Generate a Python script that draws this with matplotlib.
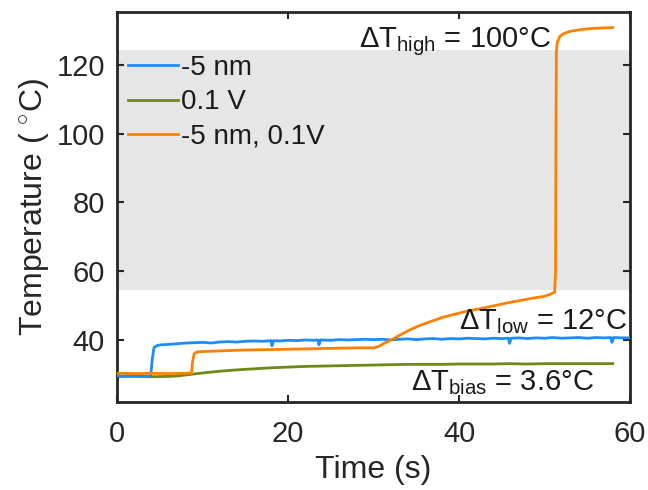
import matplotlib
matplotlib.use("Agg")
import matplotlib.pyplot as plt

plt.rcParams['font.family'] = ['Liberation Sans', 'DejaVu Sans']
plt.rcParams['mathtext.fontset'] = 'custom'
plt.rcParams['mathtext.rm'] = 'Liberation Sans'

# ---- data ----
t_blue = [0, 1, 2, 3, 3.9, 4.1, 4.3, 4.7, 5.2, 6, 7, 8, 9, 10, 11, 12, 13, 14, 15, 16, 17,
          18, 18.1, 18.3, 19, 20, 21, 22, 23, 23.5, 23.6, 23.8, 25, 26, 27, 28, 29,
          30, 31, 32, 33, 34, 35, 36, 37, 38, 39, 40, 41, 42, 43, 44, 45, 45.8, 45.9,
          46.1, 47, 48, 49, 50, 51, 52, 53, 54, 55, 56, 57, 57.8, 57.9, 58.1, 59, 60]
v_blue = [29.6, 29.5, 29.6, 29.5, 29.5, 34.5, 37.8, 38.4, 38.6, 38.7, 38.9, 39.1, 39.2,
          39.3, 39.1, 39.4, 39.5, 39.4, 39.6, 39.7, 39.6, 39.8, 38.3, 39.8, 39.7, 39.9,
          39.8, 40.0, 39.9, 40.0, 38.6, 40.0, 39.9, 40.1, 40.0, 40.1, 40.2, 40.1, 40.2,
          40.0, 40.2, 40.3, 40.1, 40.3, 40.4, 40.2, 40.4, 40.3, 40.5, 40.4, 40.3, 40.5,
          40.4, 40.5, 39.0, 40.5, 40.6, 40.4, 40.6, 40.5, 40.7, 40.5, 40.6, 40.7, 40.5,
          40.7, 40.6, 40.7, 39.3, 40.7, 40.6, 40.6]

t_green = [0, 2, 4, 6, 7, 8, 10, 12, 14, 16, 18, 20, 22, 24, 26, 28, 30, 32, 34, 36, 38,
           40, 42, 44, 46, 48, 50, 52, 54, 56, 58]
v_green = [29.4, 29.4, 29.3, 29.4, 29.5, 29.8, 30.4, 30.9, 31.3, 31.6, 31.9, 32.1, 32.3,
           32.4, 32.5, 32.6, 32.7, 32.8, 32.9, 32.9, 32.9, 33.0, 33.0, 33.0, 33.1, 33.0,
           33.1, 33.1, 33.1, 33.1, 33.1]

t_orange = [0, 2, 4, 6, 8, 8.7, 8.8, 9.0, 9.3, 9.7, 12, 14, 16, 18, 20, 22, 24, 26, 28,
            30, 30.6, 31.3, 32.3, 33.3, 34.3, 35.3, 36.5, 38, 39.5, 41, 42.5, 44, 45.5,
            47, 48.5, 50, 50.8, 51.2, 51.3, 51.35, 51.4, 51.5, 51.8, 52.3, 53.0, 54, 55,
            56, 57, 58]
v_orange = [30.3, 30.2, 30.3, 30.2, 30.3, 30.4, 33.5, 36.0, 36.5, 36.6, 36.8, 37.0, 37.1,
            37.2, 37.3, 37.4, 37.5, 37.6, 37.7, 37.7, 38.1, 39.1, 40.3, 41.7, 43.0, 44.1,
            45.2, 46.5, 47.5, 48.4, 49.1, 49.9, 50.7, 51.4, 52.1, 52.7, 53.4, 53.9, 60,
            100, 124, 126.5, 128.3, 129.2, 129.8, 130.2, 130.5, 130.7, 130.8, 130.9]

band_low, band_high = 54.5, 124.5
x_ticks = [0, 20, 40, 60]
y_ticks = [40, 60, 80, 100, 120]

c_blue = '#1a8cff'
c_green = '#6b8a14'
c_orange = '#ff8000'

fig = plt.figure(figsize=(6.48, 4.9), dpi=100)
ax = fig.add_axes([0.181, 0.180, 0.791, 0.796])

ax.axhspan(band_low, band_high, color='#e6e6e6', lw=0, zorder=0)
ax.plot(t_blue, v_blue, color=c_blue, lw=2, label='-5 nm', zorder=3)
ax.plot(t_green, v_green, color=c_green, lw=2, label='0.1 V', zorder=2)
ax.plot(t_orange, v_orange, color=c_orange, lw=2, label='-5 nm, 0.1V', zorder=4)

ax.set_xlim(0, 60)
ax.set_ylim(22, 135.5)
ax.set_xticks(x_ticks)
ax.set_yticks(y_ticks)
ax.tick_params(direction='in', length=5, width=1.5, labelsize=21, top=True, right=True,
               colors='#262626')
ax.tick_params(axis='x', pad=13)
ax.tick_params(axis='y', pad=9)
for s in ax.spines.values():
    s.set_linewidth(2)
    s.set_color('#262626')

ax.set_xlabel('Time (s)', fontsize=23, color='#262626', labelpad=5)
ax.set_ylabel('Temperature ( $^{\\circ}$C)', fontsize=23, color='#262626', labelpad=4)

leg = ax.legend(loc='upper left', bbox_to_anchor=(-0.012, 0.932), frameon=False,
                fontsize=20, handlelength=1.8, handletextpad=0.1, labelspacing=0.3,
                borderaxespad=0.2)
for txt in leg.get_texts():
    txt.set_color('#1a1a1a')

ax.text(28.3, 125.3, r'$\Delta$T$_{\mathrm{high}}$ = 100°C', fontsize=21,
        ha='left', va='baseline', color='#1a1a1a', zorder=5)
ax.text(59.7, 43.0, r'$\Delta$T$_{\mathrm{low}}$ = 12°C', fontsize=21,
        ha='right', va='baseline', color='#1a1a1a', zorder=5)
ax.text(55.8, 25.4, r'$\Delta$T$_{\mathrm{bias}}$ = 3.6°C', fontsize=21,
        ha='right', va='baseline', color='#1a1a1a', zorder=5)

fig.savefig('out.png', dpi=100)
